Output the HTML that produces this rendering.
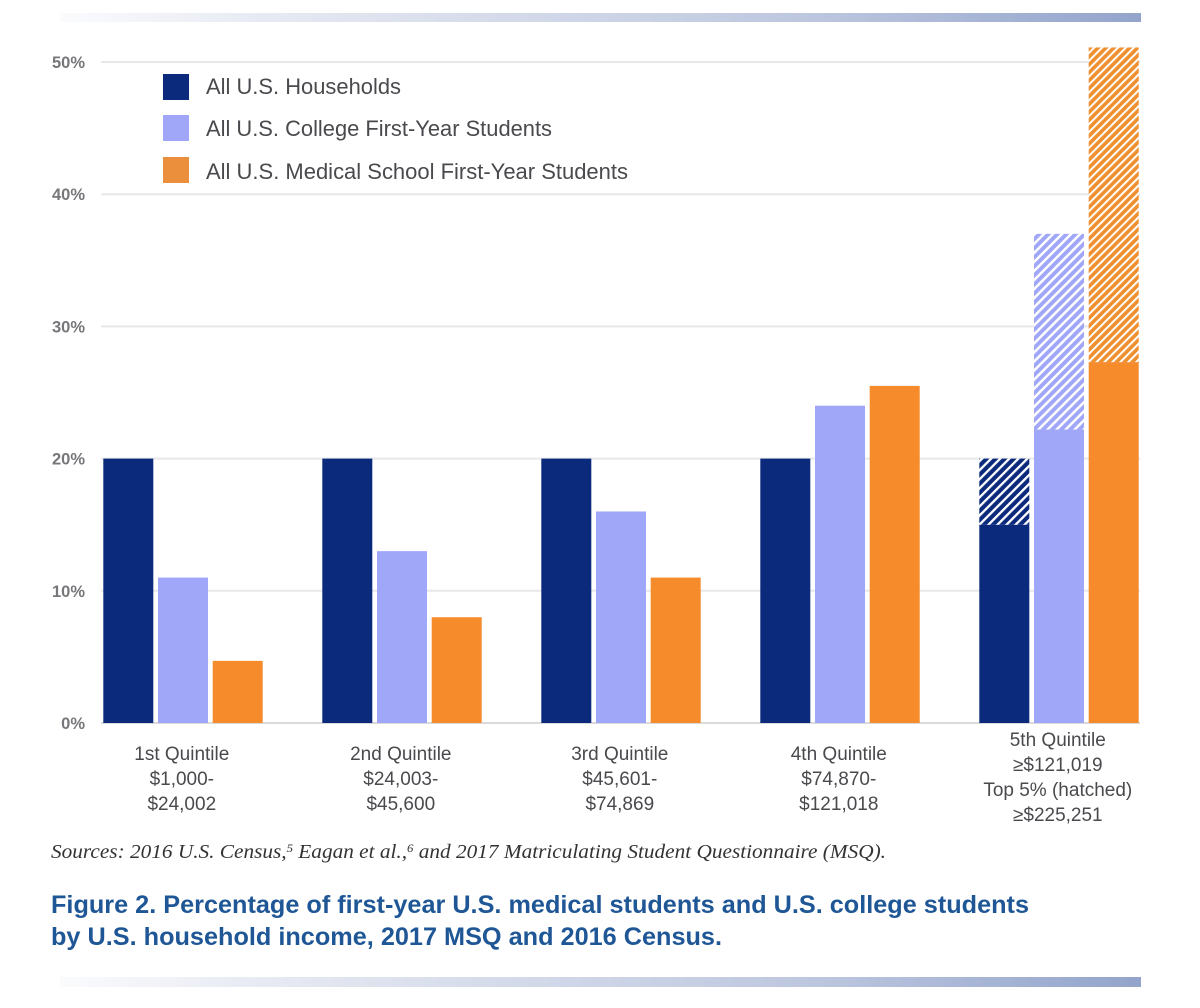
<!DOCTYPE html>
<html lang="en">
<head>
<meta charset="utf-8">
<title>Figure 2</title>
<style>
html,body{margin:0;padding:0;background:#fff;width:1200px;height:1008px;overflow:hidden}
svg{display:block}
</style>
</head>
<body>
<svg id="chart" xmlns="http://www.w3.org/2000/svg" width="1200" height="1008" viewBox="0 0 1200 1008">
<defs>
<linearGradient id="band" x1="0" x2="1" y1="0" y2="0">
<stop offset="0" stop-color="#fafbfd"/>
<stop offset="0.2" stop-color="#e6e9f2"/>
<stop offset="0.7" stop-color="#bcc6de"/>
<stop offset="1" stop-color="#93a4cc"/>
</linearGradient>
<pattern id="hatch-navy" width="6.4" height="6.4" patternUnits="userSpaceOnUse" patternTransform="rotate(-45)">
<rect width="6.4" height="6.4" fill="#0b2a7c"/><rect width="6.4" height="2.3" fill="#fff"/>
</pattern>
<pattern id="hatch-lav" width="6.4" height="6.4" patternUnits="userSpaceOnUse" patternTransform="rotate(-45)">
<rect width="6.4" height="6.4" fill="#a0a6f8"/><rect width="6.4" height="2.5" fill="#fff"/>
</pattern>
<pattern id="hatch-org" width="5.6" height="5.6" patternUnits="userSpaceOnUse" patternTransform="rotate(-45)">
<rect width="5.6" height="5.6" fill="#f08f2e"/><rect width="5.6" height="2" fill="#fff"/>
</pattern>
</defs>
<rect x="60" y="13" width="1081" height="9" fill="url(#band)"/>
<rect x="60" y="977" width="1081" height="10" fill="url(#band)"/>
<g id="grid"></g>
<g id="bars"></g>
<g id="xlabels"></g>
<g font-family="'Liberation Sans',sans-serif" font-size="22" fill="#4a4a4e">
<rect x="163" y="74" width="26" height="26" fill="#0b2a7c"/>
<text x="206" y="94" textLength="195" lengthAdjust="spacingAndGlyphs">All U.S. Households</text>
<rect x="163" y="115" width="26" height="26" fill="#a0a6f8"/>
<text x="206" y="136" textLength="346" lengthAdjust="spacingAndGlyphs">All U.S. College First-Year Students</text>
<rect x="163" y="157" width="26" height="26" fill="#ec8f3c"/>
<text x="206" y="179" textLength="422" lengthAdjust="spacingAndGlyphs">All U.S. Medical School First-Year Students</text>
</g>
<text x="51" y="858" font-family="'Liberation Serif',serif" font-style="italic" font-size="20" fill="#333333" textLength="835" lengthAdjust="spacingAndGlyphs">Sources: 2016 U.S. Census,<tspan dy="-6" font-size="12">5</tspan><tspan dy="6"> Eagan et al.,</tspan><tspan dy="-6" font-size="12">6</tspan><tspan dy="6"> and 2017 Matriculating Student Questionnaire (MSQ).</tspan></text>
<g font-family="'Liberation Sans',sans-serif" font-weight="bold" font-size="25" fill="#1f5796">
<text x="51" y="913" textLength="978" lengthAdjust="spacingAndGlyphs">Figure 2. Percentage of first-year U.S. medical students and U.S. college students</text>
<text x="51" y="945" textLength="671" lengthAdjust="spacingAndGlyphs">by U.S. household income, 2017 MSQ and 2016 Census.</text>
</g>
</svg>
<script>
var categoryLines = [
  ["1st Quintile", "$1,000-", "$24,002"],
  ["2nd Quintile", "$24,003-", "$45,600"],
  ["3rd Quintile", "$45,601-", "$74,869"],
  ["4th Quintile", "$74,870-", "$121,018"],
  ["5th Quintile", "≥$121,019", "Top 5% (hatched)", "≥$225,251"]
];
var yTicks = [0, 10, 20, 30, 40, 50];
var households = [20, 20, 20, 20, 15];
var college = [11, 13, 16, 24, 22.2];
var medical = [4.7, 8, 11, 25.5, 27.3];
var householdsTop5 = [0, 0, 0, 0, 20];
var collegeTop5 = [0, 0, 0, 0, 37];
var medicalTop5 = [0, 0, 0, 0, 51.1];

var NS = "http://www.w3.org/2000/svg";
function yScale(v) { return 723 - v * 13.22; }
function groupX(i) { return 103.3 + i * 219; }
function barX(i, s) { return groupX(i) + s * 54.7; }
var BAR_W = 50;

var grid = document.getElementById("grid");
yTicks.forEach(function (t) {
  var line = document.createElementNS(NS, "line");
  
  
  line.setAttribute("x1", 101);
  line.setAttribute("x2", 1140);
  line.setAttribute("y1", yScale(t));
  line.setAttribute("y2", yScale(t));
  line.setAttribute("stroke", t === 0 ? "#dadada" : "#e8e8ea");
  line.setAttribute("stroke-width", 2);
  grid.appendChild(line);
  var label = document.createElementNS(NS, "text");
  
  
  label.setAttribute("x", 85);
  label.setAttribute("y", yScale(t) + 6);
  label.setAttribute("text-anchor", "end");
  label.setAttribute("font-family", "'Liberation Sans',sans-serif");
  label.setAttribute("font-weight", "bold");
  label.setAttribute("font-size", "16.5");
  label.setAttribute("fill", "#77777b");
  label.textContent = t + "%";
  grid.appendChild(label);
});

var barsGroup = document.getElementById("bars");
function drawBar(i, s, from, to, fill, name) {
  var r = document.createElementNS(NS, "rect");
  
  
  r.setAttribute("x", barX(i, s));
  r.setAttribute("width", BAR_W);
  r.setAttribute("y", yScale(to));
  r.setAttribute("height", yScale(from) - yScale(to));
  r.setAttribute("fill", fill);
  barsGroup.appendChild(r);
}
var solidColors = ["#0b2a7c", "#a0a6f8", "#f68b2c"];
var hatchFills = ["url(#hatch-navy)", "url(#hatch-lav)", "url(#hatch-org)"];
var seriesNames = ["households", "college", "medical"];
[households, college, medical].forEach(function (vals, s) {
  vals.forEach(function (v, i) {
    drawBar(i, s, 0, v, solidColors[s], "bar-" + seriesNames[s] + "-q" + (i + 1));
  });
});
[householdsTop5, collegeTop5, medicalTop5].forEach(function (vals, s) {
  var base = [households, college, medical][s];
  vals.forEach(function (v, i) {
    if (v > base[i]) drawBar(i, s, base[i], v, hatchFills[s], "bar-" + seriesNames[s] + "-top5-q" + (i + 1));
  });
});

var xl = document.getElementById("xlabels");
categoryLines.forEach(function (lines, i) {
  var startY = lines.length > 3 ? 746 : 760;
  lines.forEach(function (txt, j) {
    var t = document.createElementNS(NS, "text");
    
    
    t.setAttribute("x", groupX(i) + 78.5);
    t.setAttribute("y", startY + j * 25);
    t.setAttribute("text-anchor", "middle");
    t.setAttribute("font-family", "'Liberation Sans',sans-serif");
    t.setAttribute("font-size", "19");
    t.setAttribute("fill", "#4a4a4e");
    t.textContent = txt;
    xl.appendChild(t);
  });
});
</script>
</body>
</html>
